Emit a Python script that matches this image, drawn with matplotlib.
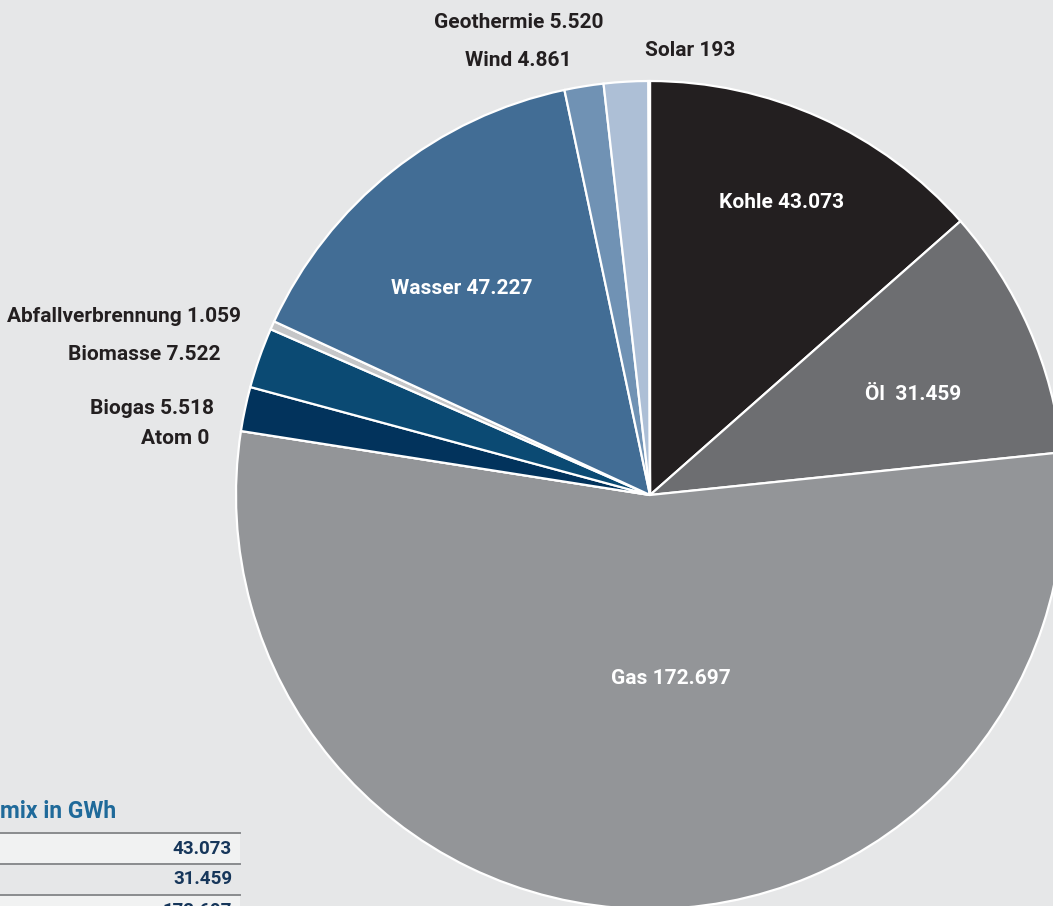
import matplotlib
matplotlib.use("Agg")
import matplotlib.pyplot as plt
from matplotlib.patches import Rectangle

plt.rcParams["font.family"] = ["Roboto", "DejaVu Sans"]
plt.rcParams["font.weight"] = "bold"

W, H = 1053, 906
BG = "#e6e7e8"

categories = ["Kohle", "Öl", "Gas", "Atom", "Biogas", "Biomasse",
              "Abfallverbrennung", "Wasser", "Wind", "Geothermie", "Solar"]
values_gwh = [43073, 31459, 172697, 0, 5518, 7522, 1059, 47227, 4861, 5520, 193]
colors = ["#231f20", "#6d6e71", "#939598", "#bcbec0", "#02335c", "#0b4a73",
          "#c5c6c8", "#426d95", "#7092b4", "#adbfd6", "#ffffff"]
table_title = "mix in GWh"
table_rows = ["Kohle", "Öl", "Gas"]

# label placement in pixel coords (x, y from top, alignment, colour)
label_pos = {
    "Kohle": (782, 202, "center", "white"),
    "Öl": (913, 394, "center", "white"),
    "Gas": (671, 679, "center", "white"),
    "Atom": (209, 438, "right", "#231f20"),
    "Biogas": (214, 408, "right", "#231f20"),
    "Biomasse": (221, 354, "right", "#231f20"),
    "Abfallverbrennung": (241, 317, "right", "#231f20"),
    "Wasser": (462, 289, "center", "white"),
    "Wind": (518, 61, "center", "#231f20"),
    "Geothermie": (519, 22, "center", "#231f20"),
    "Solar": (690, 51, "center", "#231f20"),
}


def fmt(v):
    return f"{v:,}".replace(",", ".")


def py(y):
    # pixel row (top origin) -> data y
    return H - y


fig = plt.figure(figsize=(W / 100, H / 100), dpi=100, facecolor=BG)
ax = fig.add_axes([0, 0, 1, 1])
ax.set_facecolor(BG)

ax.pie(values_gwh, colors=colors, startangle=90, counterclock=False,
       center=(650, py(495)), radius=414,
       wedgeprops=dict(edgecolor="white", linewidth=1.6))
ax.set_xlim(0, W)
ax.set_ylim(0, H)
ax.set_aspect("auto")
ax.axis("off")

for name, val in zip(categories, values_gwh):
    x, y, ha, col = label_pos[name]
    sep = "  " if name == "Öl" else " "
    ax.text(x, py(y), f"{name}{sep}{fmt(val)}", ha=ha, va="center",
            color=col, fontsize=15, fontweight="bold")

# small table, bottom left
ax.text(0, py(812), table_title, ha="left", va="center", color="#1f6a9a",
        fontsize=16.5, fontweight="bold")
row_h = 31
top = 833
for i, name in enumerate(table_rows):
    y0 = top + i * row_h
    if i % 2 == 0:
        ax.add_patch(Rectangle((0, py(y0 + row_h)), 240, row_h,
                               facecolor="#f1f2f2", edgecolor="none", zorder=3))
    ax.plot([0, 240], [py(y0), py(y0)], color="#8a8c8e", lw=1.4, zorder=4)
    ax.text(232, py(y0 + row_h / 2), fmt(values_gwh[categories.index(name)]),
            ha="right", va="center", color="#16365a", fontsize=13.5,
            fontweight="bold", zorder=5)

fig.savefig("out.png", dpi=100, facecolor=BG)
